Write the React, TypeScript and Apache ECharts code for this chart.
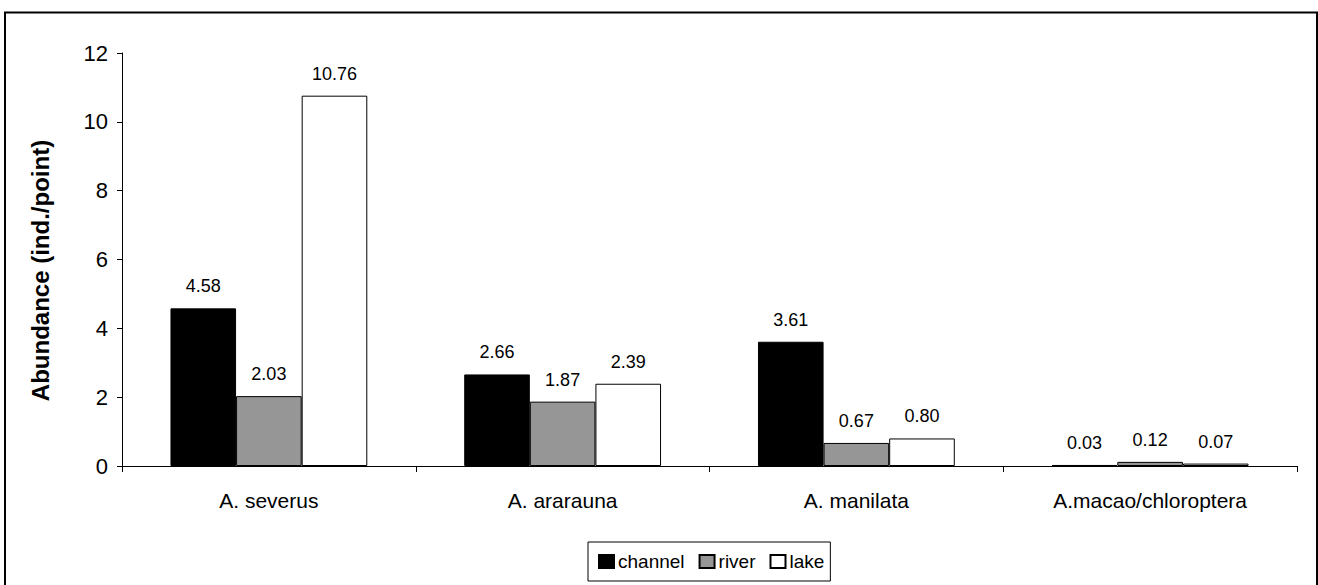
import React, { useEffect, useRef } from "react";
import * as echarts from "echarts";

const species = ["A. severus", "A. ararauna", "A. manilata", "A.macao/chloroptera"];
const habitats = ["channel", "river", "lake"];
const channelValues = [4.58, 2.66, 3.61, 0.03];
const riverValues = [2.03, 1.87, 0.67, 0.12];
const lakeValues = [10.76, 2.39, 0.8, 0.07];
const fills = ["#000000", "#969696", "#ffffff"];

const FONT = "'Liberation Sans', Arial, sans-serif";

export default function App() {
  const ref = useRef<HTMLDivElement>(null);

  useEffect(() => {
    if (!ref.current) return;
    const chart = echarts.init(ref.current, null, { renderer: "svg" });
    const seriesData = [channelValues, riverValues, lakeValues];

    chart.setOption({
      animation: false,
      backgroundColor: "#ffffff",
      textStyle: { fontFamily: FONT, color: "#000" },
      grid: { left: 122, right: 21, top: 53, bottom: 119 },
      legend: {
        left: 588,
        top: 542,
        orient: "horizontal",
        data: habitats,
        icon: "rect",
        itemWidth: 15,
        itemHeight: 13,
        itemGap: 14,
        padding: [10, 6, 10, 10],
        borderColor: "#000",
        borderWidth: 1,
        textStyle: { fontFamily: FONT, fontSize: 19, color: "#000", padding: [0, 0, 0, -1] },
      },
      xAxis: {
        type: "category",
        data: species,
        axisLine: { show: true, lineStyle: { color: "#000", width: 1 } },
        axisTick: { show: true, length: 6, lineStyle: { color: "#000" } },
        axisLabel: { margin: 24, fontSize: 21, color: "#000", fontFamily: FONT },
        splitLine: { show: false },
      },
      yAxis: {
        type: "value",
        min: 0,
        max: 12,
        interval: 2,
        name: "Abundance (ind./point)",
        nameLocation: "middle",
        nameGap: 70,
        nameTextStyle: {
          fontSize: 24,
          fontWeight: "bold",
          color: "#000",
          fontFamily: FONT,
          padding: [0, 22, 0, 0],
        },
        axisLine: { show: true, lineStyle: { color: "#000", width: 1 } },
        axisTick: { show: true, length: 5, lineStyle: { color: "#000" } },
        axisLabel: { margin: 14, fontSize: 22, color: "#000", fontFamily: FONT },
        splitLine: { show: false },
      },
      series: habitats.map((name, i) => ({
        name,
        type: "bar",
        data: seriesData[i],
        barGap: "0%",
        barCategoryGap: "33%",
        itemStyle: { color: fills[i], borderColor: "#000", borderWidth: 1 },
        label: {
          show: true,
          position: "top",
          distance: 13,
          fontSize: 18,
          color: "#000",
          fontFamily: FONT,
          formatter: (p: any) => Number(p.value).toFixed(2),
        },
      })),
      graphic: [
        {
          type: "rect",
          shape: { x: 5, y: 12.5, width: 1312, height: 590 },
          style: { fill: "none", stroke: "#000", lineWidth: 2 },
          silent: true,
        },
      ],
    });

    return () => chart.dispose();
  }, []);

  return (
    <div
      ref={ref}
      style={{ position: "fixed", left: 0, top: 0, width: 1318, height: 585 }}
    />
  );
}
